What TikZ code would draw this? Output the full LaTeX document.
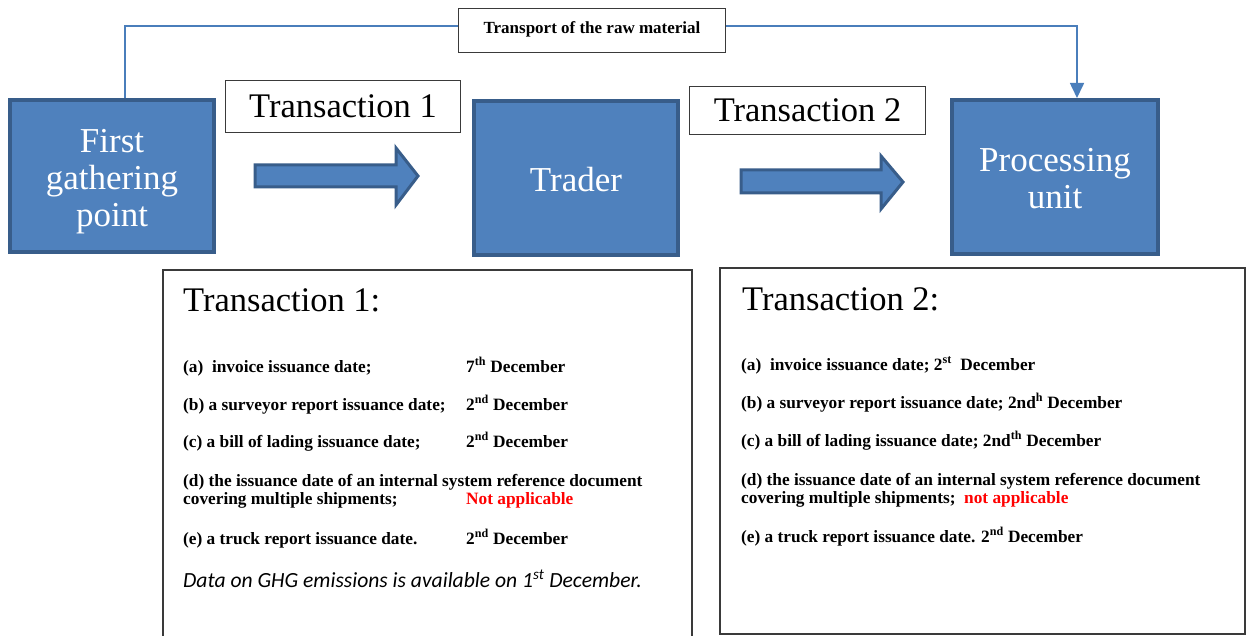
\documentclass[tikz,border=0pt]{standalone}
\usepackage{fontspec}
\setmainfont{Liberation Serif}
\newfontfamily\calfont{Carlito}
\usetikzlibrary{arrows.meta}
\definecolor{boxfill}{HTML}{4F81BD}
\definecolor{boxedge}{HTML}{385D8A}
\definecolor{linkblue}{HTML}{4A7EBB}
\definecolor{frame}{HTML}{3A3A3A}
\definecolor{nared}{HTML}{FF0000}
\begin{document}
\begin{tikzpicture}[x=1pt,y=-1pt,
  bluebox/.style={draw=boxedge, line width=4pt, fill=boxfill, inner sep=0pt},
  boxtext/.style={text=white, align=center, inner sep=0pt, font=\fontsize{35}{37}\selectfont},
  labelbox/.style={draw=frame, line width=1.2pt, fill=white, inner sep=0pt,
    font=\fontsize{34.5}{37}\selectfont},
  smallbox/.style={draw=frame, line width=1.2pt, fill=white, inner sep=0pt,
    font=\bfseries\fontsize{17}{19}\selectfont},
  frameline/.style={draw=frame, line width=1.2pt},
  blockarrow/.style={draw=boxedge, line width=3pt, fill=boxfill, line join=miter},
  conn/.style={draw=linkblue, line width=1.6pt},
  txt/.style={anchor=base west, inner sep=0pt, font=\bfseries\fontsize{17.3}{19}\selectfont},
  head/.style={anchor=base west, inner sep=0pt, font=\fontsize{34.5}{37}\selectfont},
  ital/.style={anchor=base west, inner sep=0pt, font=\calfont\itshape\fontsize{21.6}{25}\selectfont}
]
\clip (0,0) rectangle (1247,636);
\fill[white] (0,0) rectangle (1247,636);

% main boxes
\node[bluebox, minimum width=204, minimum height=152] (fgp) at (112,176) {};
\node[boxtext] (fgpt) at ([yshift=-6pt]fgp.center) {First\\gathering\\point};
\node[bluebox, minimum width=204, minimum height=154] (trader) at (576,178) {};
\node[boxtext] (tradert) at ([yshift=-2pt]trader.center) {Trader};
\node[bluebox, minimum width=206, minimum height=154] (pu) at (1055,177) {};
\node[boxtext] (put) at ([yshift=-2pt]pu.center) {Processing\\unit};

% label boxes
\node[labelbox, minimum width=235, minimum height=52] (lab1) at (343,106.5) {Transaction 1};
\node[labelbox, minimum width=236, minimum height=48] (lab2) at (807.5,110.5) {Transaction 2};
\node[smallbox, minimum width=267, minimum height=44] (transport) at (592,30.5) {\raisebox{6pt}{Transport of the raw material}};

% block arrows
\path[blockarrow] (255,165) -- (396,165) -- (396,148) -- (418,176) -- (396,205) -- (396,187) -- (255,187) -- cycle;
\path[blockarrow] (741,170) -- (881,170) -- (881,156) -- (903,182) -- (881,209) -- (881,193) -- (741,193) -- cycle;

% transport connector
\draw[conn] ([xshift=13pt]fgp.north) |- ([yshift=4.5pt]transport.west);
\draw[conn, -{Triangle[width=14pt,length=15pt]}] ([yshift=4.5pt]transport.east) -| ([xshift=22pt]pu.north);

% transaction frames
\draw[frameline] (163,645) -- (163,270) -- (692,270) -- (692,645);
\draw[frameline] (720,268) rectangle (1245,634);

% transaction 1 text
\node[head] (h1) at (183,312) {Transaction 1:};
\node[txt] (t1a) at (183,372) {(a)\ \ invoice issuance date;};
\node[txt] (t1ad) at (466,372) {7\textsuperscript{th} December};
\node[txt] (t1b) at (183,410) {(b) a surveyor report issuance date;};
\node[txt] (t1bd) at (466,410) {2\textsuperscript{nd} December};
\node[txt] (t1c) at (183,447) {(c) a bill of lading issuance date;};
\node[txt] (t1cd) at (466,447) {2\textsuperscript{nd} December};
\node[txt] (t1d) at (183,486) {(d) the issuance date of an internal system reference document};
\node[txt] (t1d2) at (183,504) {covering multiple shipments;};
\node[txt, text=nared] (t1dd) at (466,504) {Not applicable};
\node[txt] (t1e) at (183,544) {(e) a truck report issuance date.};
\node[txt] (t1ed) at (466,544) {2\textsuperscript{nd} December};
\node[ital] (t1g) at (183,587) {Data on GHG emissions is available on 1\textsuperscript{st} December.};

% transaction 2 text
\node[head] (h2) at (742,310) {Transaction 2:};
\node[txt] (t2a) at (741,370) {(a)\ \ invoice issuance date; 2\textsuperscript{st}\ \ December};
\node[txt] (t2b) at (741,408) {(b) a surveyor report issuance date; 2nd\textsuperscript{h} December};
\node[txt] (t2c) at (741,446) {(c) a bill of lading issuance date; 2nd\textsuperscript{th} December};
\node[txt] (t2d) at (741,485) {(d) the issuance date of an internal system reference document};
\node[txt] (t2d2) at (741,503) {covering multiple shipments;\ \ \textcolor{nared}{not applicable}};
\node[txt] (t2e) at (741,542) {(e) a truck report issuance date. 2\textsuperscript{nd} December};
\end{tikzpicture}
\end{document}
